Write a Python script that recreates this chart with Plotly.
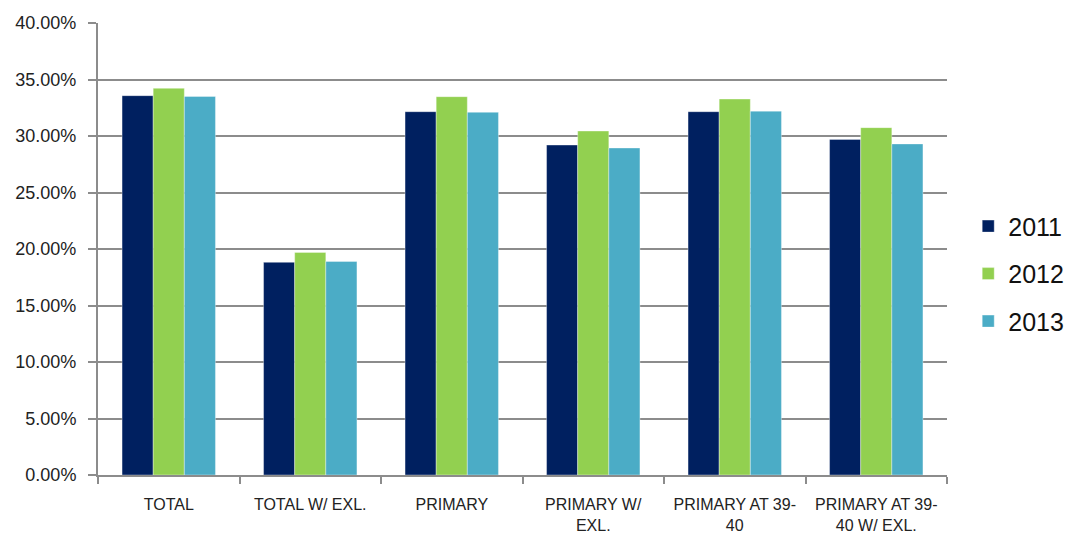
import plotly.graph_objects as go

categories = [
    "TOTAL",
    "TOTAL W/ EXL.",
    "PRIMARY",
    "PRIMARY W/<br>EXL.",
    "PRIMARY AT 39-<br>40",
    "PRIMARY AT 39-<br>40 W/ EXL.",
]
years = ["2011", "2012", "2013"]
values_2011 = [0.3357, 0.1882, 0.3215, 0.2920, 0.3215, 0.2970]
values_2012 = [0.3422, 0.1970, 0.3348, 0.3044, 0.3327, 0.3074]
values_2013 = [0.3350, 0.1890, 0.3210, 0.2894, 0.3220, 0.2930]
colors = ["#002060", "#92D050", "#4BACC6"]

series = [values_2011, values_2012, values_2013]

fig = go.Figure()
for year, vals, col in zip(years, series, colors):
    fig.add_trace(go.Bar(
        x=categories, y=vals, name=year,
        marker=dict(color=col, line=dict(color="rgba(255,255,255,0.6)", width=0.6)),
        legendgroup=year,
    ))

font_family = "Liberation Sans, Arial, sans-serif"

fig.update_layout(
    width=1070, height=533,
    margin=dict(l=98, r=123, t=23, b=58, autoexpand=False),
    paper_bgcolor="white", plot_bgcolor="white",
    barmode="group", bargap=0.34, bargroupgap=0,
    font=dict(family=font_family, color="#222222", size=16),
    legend=dict(
        x=1.025, xanchor="left", y=0.445, yanchor="middle",
        font=dict(family=font_family, size=25, color="#111111"),
        traceorder="grouped", tracegroupgap=12,
        itemwidth=30,
    ),
    xaxis=dict(
        showline=True, linecolor="#8c8c8c", linewidth=2,
        ticks="outside", tickson="boundaries", ticklen=7, tickcolor="#8c8c8c", tickwidth=2,
        showgrid=False, tickfont=dict(size=16), tickangle=0, automargin=False,
        ticklabelstandoff=14,
    ),
    yaxis=dict(
        range=[0, 0.40], dtick=0.05, tickformat=".2%",
        showline=True, linecolor="#8c8c8c", linewidth=2,
        ticks="outside", ticklen=8, tickcolor="#8c8c8c", tickwidth=2,
        showgrid=True, gridcolor="#8c8c8c", gridwidth=1.5,
        zeroline=False, tickfont=dict(size=18), automargin=False,
        ticklabelstandoff=8,
    ),
)

fig.write_html("out.html")
